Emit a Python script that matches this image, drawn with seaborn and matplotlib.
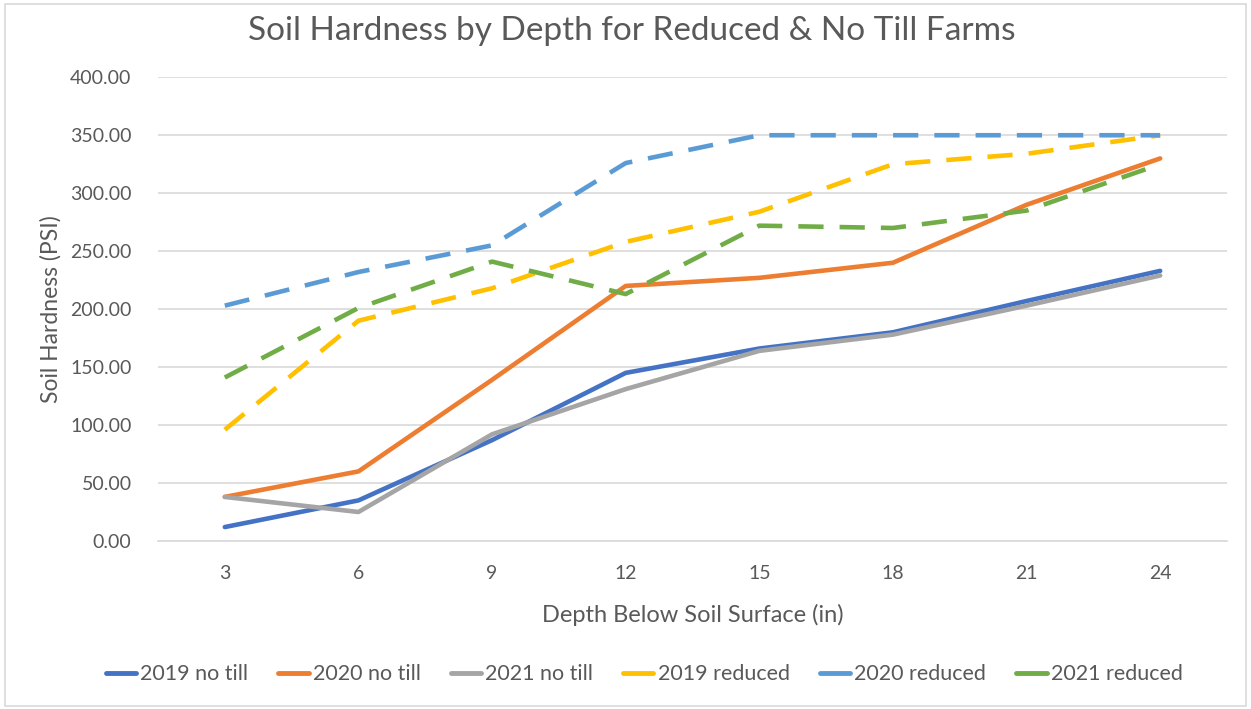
import numpy as np
import pandas as pd
import matplotlib
matplotlib.use("Agg")
import matplotlib.pyplot as plt
from matplotlib.lines import Line2D
from matplotlib.patches import Rectangle
import seaborn as sns

# data
depths = [3, 6, 9, 12, 15, 18, 21, 24]
no_till_2019 = [12, 35, 87, 145, 166, 180, 207, 233]
no_till_2020 = [38, 60, 139, 220, 227, 240, 290, 330]
no_till_2021 = [38, 25, 92, 131, 164, 178, 203, 229]
reduced_2019 = [96, 190, 218, 258, 284, 325, 334, 350]
reduced_2020 = [203, 232, 255, 326, 350, 350, 350, 350]
reduced_2021 = [141, 201, 241, 213, 272, 270, 285, 325]

series_names = ["2019 no till", "2020 no till", "2021 no till",
                "2019 reduced", "2020 reduced", "2021 reduced"]
series_values = [no_till_2019, no_till_2020, no_till_2021,
                 reduced_2019, reduced_2020, reduced_2021]
colors = ["#4472C4", "#ED7D31", "#A5A5A5", "#FFC000", "#5B9BD5", "#70AD47"]

rows = []
for name, vals in zip(series_names, series_values):
    for d, v in zip(depths, vals):
        rows.append({"depth": d, "psi": v, "series": name})
df = pd.DataFrame(rows)

sns.set_theme(style="white")
plt.rcParams["font.family"] = ["Lato", "DejaVu Sans"]
text_col = "#595959"
grid_col = "#d9d9d9"

fig = plt.figure(figsize=(12.51, 7.09), dpi=100)
ax = fig.add_axes([0.1263, 0.237, 0.8545, 0.654])

palette = dict(zip(series_names, colors))
dashes = {n: ("" if "no till" in n else (5.5, 3.5)) for n in series_names}
sns.lineplot(data=df, x="depth", y="psi", hue="series", style="series",
             palette=palette, dashes=dashes, linewidth=3.3, ax=ax,
             legend=False, hue_order=series_names, style_order=series_names)

ax.set_xlim(1.5, 25.5)
ax.set_ylim(0, 400)
ax.set_xticks(depths)
ax.set_xticklabels([str(d) for d in depths])
ax.set_yticks(np.arange(0, 401, 50))
ax.set_yticklabels([f"{v:.2f}" for v in np.arange(0, 401, 50)])
ax.grid(axis="y", color=grid_col, linewidth=1.2)
ax.set_axisbelow(True)
for side in ["top", "right", "left"]:
    ax.spines[side].set_visible(False)
ax.spines["bottom"].set_color(grid_col)
ax.spines["bottom"].set_linewidth(1.2)
ax.tick_params(axis="both", length=0, labelsize=14, colors=text_col)
ax.tick_params(axis="x", pad=17)
ax.tick_params(axis="y", pad=19)

ax.set_xlabel("Depth Below Soil Surface (in)", fontsize=17, color=text_col, labelpad=16)
ax.set_ylabel("Soil Hardness (PSI)", fontsize=16.5, color=text_col, labelpad=6)
fig.suptitle("Soil Hardness by Depth for Reduced & No Till Farms",
             x=0.505, y=0.978, fontsize=24, color=text_col)

handles = [Line2D([0], [0], color=c, linewidth=3.5) for c in colors]
fig.legend(handles, series_names, loc="center", bbox_to_anchor=(0.515, 0.049),
           ncol=6, frameon=False, fontsize=15.5, handlelength=1.4,
           columnspacing=1.4, handletextpad=0.2, labelcolor=text_col)

fig.patches.append(Rectangle((0.004, 0.004), 0.992, 0.99, transform=fig.transFigure,
                             fill=False, edgecolor=grid_col, linewidth=1.2))

fig.savefig("out.png", dpi=100)
